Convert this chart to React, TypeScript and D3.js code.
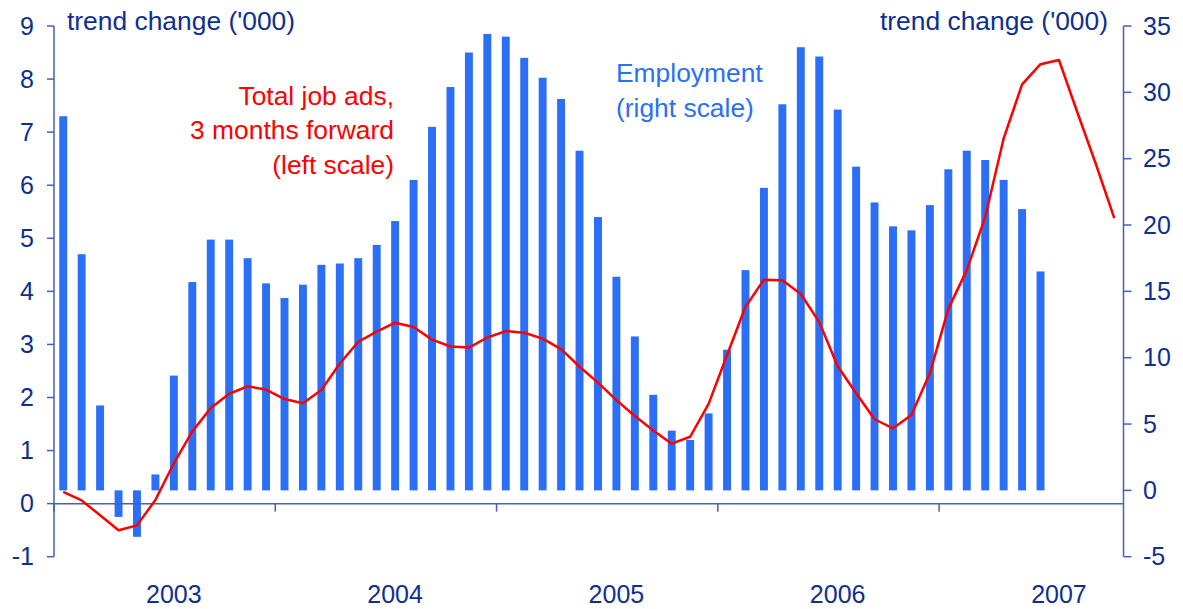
import { useRef, useEffect } from "react";
import * as d3 from "d3";

// Monthly categories, Jan 2003 - Oct 2007
const months = d3.timeMonth.range(new Date(2003, 0, 1), new Date(2007, 10, 1));
const yearLabels = ["2003", "2004", "2005", "2006", "2007"];

// Employment, trend change ('000), right scale
const employment = [
  28.2, 17.8, 6.4, -2.0, -3.5, 1.2, 8.65, 15.7, 18.9, 18.9, 17.5, 15.6,
  14.5, 15.5, 17.0, 17.1, 17.5, 18.5, 20.3, 23.4, 27.4, 30.4, 33.0, 34.4,
  34.2, 32.6, 31.1, 29.5, 25.6, 20.6, 16.1, 11.6, 7.2, 4.5, 3.8, 5.8,
  10.6, 16.6, 22.8, 29.1, 33.4, 32.7, 28.7, 24.4, 21.7, 19.9, 19.6, 21.5,
  24.2, 25.6, 24.9, 23.4, 21.2, 16.5,
];

// Total job ads, 3 months forward, left scale
const jobAds = [
  0.22, 0.06, -0.22, -0.5, -0.41, 0.07, 0.76, 1.36, 1.8, 2.07, 2.21, 2.15,
  1.97, 1.89, 2.14, 2.64, 3.05, 3.24, 3.41, 3.33, 3.09, 2.96, 2.94, 3.13,
  3.25, 3.22, 3.11, 2.91, 2.58, 2.28, 1.95, 1.65, 1.38, 1.13, 1.26, 1.88,
  2.8, 3.71, 4.22, 4.21, 3.95, 3.42, 2.59, 2.08, 1.59, 1.42, 1.67, 2.46,
  3.67, 4.4, 5.4, 6.88, 7.9, 8.28, 8.36, 7.37, 6.4, 5.38,
];

const leftTicks = d3.range(-1, 10);
const rightTicks = d3.range(-5, 40, 5);

const W = 1183;
const H = 609;
const NAVY = "#0f2f8f";
const AXIS = "#4361b8";
const BAR = "#2b6ff7";
const RED = "#ff0000";
const FONT = "'Liberation Sans', Arial, sans-serif";

export default function App() {
  const svgRef = useRef<SVGSVGElement>(null);

  useEffect(() => {
    if (!svgRef.current) return;
    const svg = d3.select(svgRef.current);
    svg.selectAll("*").remove();

    const x0 = 54;
    const x1 = 1123.5;
    const top = 26;
    const bottom = 556.7;

    const x = d3.scaleBand<number>().domain(d3.range(months.length)).range([x0, x1]);
    const yL = d3.scaleLinear().domain([-1, 9]).range([bottom, top]);
    const yR = d3.scaleLinear().domain([-5, 35]).range([bottom, top]);
    const cx = (i: number) => (x(i) ?? 0) + x.bandwidth() / 2;
    const barW = x.bandwidth() * 0.43;

    // bars
    svg.append("g")
      .selectAll("rect")
      .data(employment)
      .join("rect")
      .attr("x", (_, i) => cx(i) - barW / 2)
      .attr("width", barW)
      .attr("y", (d) => yR(Math.max(0, d)))
      .attr("height", (d) => Math.abs(yR(d) - yR(0)))
      .attr("fill", BAR);

    // axes
    const ax = svg.append("g").attr("stroke", AXIS).attr("stroke-width", 1.5);
    ax.append("line").attr("x1", x0).attr("x2", x0).attr("y1", top).attr("y2", bottom);
    ax.append("line").attr("x1", x1).attr("x2", x1).attr("y1", top).attr("y2", bottom);
    ax.append("line").attr("x1", x0).attr("x2", x1).attr("y1", yL(0)).attr("y2", yL(0));

    ax.selectAll("line.lt")
      .data(leftTicks)
      .join("line")
      .attr("class", "lt")
      .attr("x1", x0 - 7)
      .attr("x2", x0)
      .attr("y1", (d) => yL(d))
      .attr("y2", (d) => yL(d));

    ax.selectAll("line.rt")
      .data(rightTicks)
      .join("line")
      .attr("class", "rt")
      .attr("x1", x1)
      .attr("x2", x1 + 8)
      .attr("y1", (d) => yR(d))
      .attr("y2", (d) => yR(d));

    const janIdx = months.map((m, i) => (m.getMonth() === 0 ? i : -1)).filter((i) => i >= 0);
    ax.selectAll("line.xt")
      .data(janIdx)
      .join("line")
      .attr("class", "xt")
      .attr("x1", (i) => x(i) ?? 0)
      .attr("x2", (i) => x(i) ?? 0)
      .attr("y1", yL(0))
      .attr("y2", yL(0) + 8);

    // tick labels
    svg.append("g")
      .selectAll("text")
      .data(leftTicks)
      .join("text")
      .attr("x", 34)
      .attr("y", (d) => yL(d))
      .attr("dy", "0.35em")
      .attr("text-anchor", "end")
      .attr("fill", NAVY)
      .attr("font-family", FONT)
      .attr("font-size", 25)
      .text((d) => d);

    svg.append("g")
      .selectAll("text")
      .data(rightTicks)
      .join("text")
      .attr("x", 1143)
      .attr("y", (d) => yR(d))
      .attr("dy", "0.35em")
      .attr("text-anchor", "start")
      .attr("fill", NAVY)
      .attr("font-family", FONT)
      .attr("font-size", 25)
      .text((d) => d);

    const julIdx = months.map((m, i) => (m.getMonth() === 6 ? i : -1)).filter((i) => i >= 0);
    svg.append("g")
      .selectAll("text")
      .data(yearLabels)
      .join("text")
      .attr("x", (_, k) => cx(julIdx[k]))
      .attr("y", 603)
      .attr("text-anchor", "middle")
      .attr("fill", NAVY)
      .attr("font-family", FONT)
      .attr("font-size", 25)
      .text((d) => d);

    // job ads line
    const line = d3.line<number>()
      .x((_, i) => cx(i))
      .y((d) => yL(d));
    svg.append("path")
      .datum(jobAds)
      .attr("d", line)
      .attr("fill", "none")
      .attr("stroke", RED)
      .attr("stroke-width", 2.5)
      .attr("stroke-linejoin", "round");

    // titles and annotations
    const txt = (tx: number, ty: number, s: string, anchor: string, fill: string) =>
      svg.append("text")
        .attr("x", tx)
        .attr("y", ty)
        .attr("text-anchor", anchor)
        .attr("fill", fill)
        .attr("font-family", FONT)
        .attr("font-size", 26.4)
        .text(s);

    txt(67, 30, "trend change ('000)", "start", NAVY);
    txt(1108, 30, "trend change ('000)", "end", NAVY);
    txt(394, 104.5, "Total job ads,", "end", RED);
    txt(394, 139, "3 months forward", "end", RED);
    txt(394, 173.5, "(left scale)", "end", RED);
    txt(616, 82, "Employment", "start", BAR);
    txt(616, 116.5, "(right scale)", "start", BAR);
  }, []);

  return (
    <svg
      ref={svgRef}
      width={W}
      height={H}
      style={{ position: "absolute", left: 0, top: 0, background: "#fff" }}
    />
  );
}
